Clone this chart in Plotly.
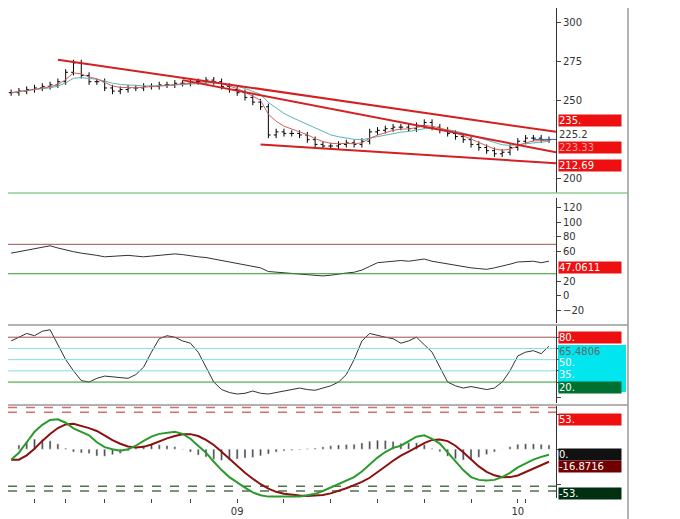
import plotly.graph_objects as go
import pandas as pd

W, H = 680, 519
closes = [255,256,257,258,259,260,262,268,274,266,
          262,262,258,256,257,258,258,259,259,260,
          260,261,261,262,262,263,262,259,257,255,
          252,249,246,228,230,229,229,228,225,222,
          221,221,222,223,222,224,230,231,232,233,
          233,232,234,236,233,231,229,227,225,222,
          220,218,216,217,220,224,226,226,225,225]
rsi = [58,60,62,64,66,68,65,62,60,58, 57,55,53,54,55,55,54,53,54,55,
       56,57,56,54,53,52,50,48,47,45, 42,40,38,33,32,31,30,29,28,27,
       27,28,30,31,32,35,40,45,46,47, 48,47,49,50,47,45,44,42,40,38,
       37,36,38,40,43,46,47,47,45,47]
stoch = [75,80,85,82,88,90,70,50,35,22, 20,25,28,27,26,25,30,40,60,78,
         82,80,75,72,60,40,20,10,6,4, 5,8,5,4,6,8,10,12,10,9,
         12,15,20,30,50,75,85,82,80,78, 72,75,80,70,60,40,20,15,12,14,
         12,10,12,20,35,55,60,62,58,68]
macd = [-15,-5,10,25,35,42,43,38,30,25, 20,10,3,0,-2,0,5,12,18,22,
        24,25,22,15,5,-5,-18,-30,-40,-48, -55,-62,-66,-68,-68,-68,-68,-68,-66,-64,
        -60,-55,-50,-45,-40,-32,-22,-12,-4,2, 5,12,18,20,15,8,-5,-18,-30,-40,
        -44,-45,-44,-40,-34,-26,-20,-15,-11,-8]
trend_upper = ([6, 69.9], [276, 230])
trend_mid = ([22, 69.9], [263, 217])
trend_low = ([32, 69.9], [222, 210])
xtick_vals = [3, 7, 12, 18, 23, 29, 35, 41, 47, 53, 59, 65, 66]
xtick_text = ["", "", "", "", "", "09", "", "", "", "", "", "10", ""]

n = len(closes)
x = list(range(n))
opens = [closes[0]] + closes[:-1]
highs = [max(o, c) + 2 for o, c in zip(opens, closes)]
lows = [min(o, c) - 2 for o, c in zip(opens, closes)]
s = pd.Series(closes, dtype=float)
ma1 = s.ewm(span=4).mean()
ma2 = s.ewm(span=9).mean()
m = pd.Series(macd, dtype=float)
sig = m.ewm(span=4).mean().shift(1).fillna(m.iloc[0])
hist = (m - sig) * 0.6

def py(p): return 1 - p / H

fig = go.Figure()
fig.add_trace(go.Ohlc(x=x, open=opens, high=highs, low=lows, close=closes,
                      increasing_line_color="black", decreasing_line_color="black",
                      line_width=1, tickwidth=0.3, xaxis="x", yaxis="y"))
fig.add_trace(go.Scatter(x=x, y=ma2, mode="lines", line=dict(color="#5fb3b3", width=1), xaxis="x", yaxis="y"))
fig.add_trace(go.Scatter(x=x, y=ma1, mode="lines", line=dict(color="#d06060", width=1), xaxis="x", yaxis="y"))
for tl in (trend_upper, trend_mid, trend_low):
    fig.add_trace(go.Scatter(x=tl[0], y=tl[1], mode="lines", line=dict(color="#d42020", width=2), xaxis="x", yaxis="y"))
fig.add_trace(go.Scatter(x=[67, 69.9], y=[225.2, 225.2], mode="lines", line=dict(color="#4060a0", width=1), xaxis="x", yaxis="y"))

fig.add_trace(go.Scatter(x=x, y=rsi, mode="lines", line=dict(color="#333", width=1), xaxis="x2", yaxis="y2"))
for lv, c in ((70, "#a05050"), (30, "#2a9a2a")):
    fig.add_trace(go.Scatter(x=[-0.4, 69.9], y=[lv, lv], mode="lines", line=dict(color=c, width=1), xaxis="x2", yaxis="y2"))

fig.add_trace(go.Scatter(x=x, y=stoch, mode="lines", line=dict(color="#333", width=1), xaxis="x3", yaxis="y3"))
for lv, c in ((80, "#a05050"), (65, "#7fe0e0"), (50, "#7fe0e0"), (35, "#7fe0e0"), (20, "#2a9a2a")):
    fig.add_trace(go.Scatter(x=[-0.4, 69.9], y=[lv, lv], mode="lines", line=dict(color=c, width=1), xaxis="x3", yaxis="y3"))

fig.add_trace(go.Bar(x=x, y=hist, marker_color="#444", width=0.25, xaxis="x4", yaxis="y4"))
for lv, c in ((60, "#d07070"), (53, "#d07070"), (-53, "#507050"), (-60, "#507050")):
    fig.add_trace(go.Scatter(x=[-0.4, 69.9], y=[lv, lv], mode="lines", line=dict(color=c, width=1.5, dash="dash"), xaxis="x4", yaxis="y4"))
fig.add_trace(go.Scatter(x=x, y=sig, mode="lines", line=dict(color="#8b1010", width=2), xaxis="x4", yaxis="y4"))
fig.add_trace(go.Scatter(x=x, y=m, mode="lines", line=dict(color="#2a9a2a", width=2), xaxis="x4", yaxis="y4"))

xd = [0, 548 / W]
common_x = dict(range=[-0.4, 69.9], domain=xd, showgrid=False, zeroline=False, rangeslider=dict(visible=False))
yax = dict(side="right", showgrid=False, zeroline=False, ticks="outside", ticklen=4, showline=True,
           linecolor="#333", tickfont=dict(family="DejaVu Sans", size=10, color="#333"), ticksuffix=".")
fig.update_layout(
    width=W, height=H, margin=dict(l=0, r=0, t=0, b=0), showlegend=False,
    plot_bgcolor="white", paper_bgcolor="white",
    xaxis=dict(**common_x, showticklabels=False),
    xaxis2=dict(**common_x, showticklabels=False, matches="x", anchor="y2"),
    xaxis3=dict(**common_x, showticklabels=False, matches="x", anchor="y3"),
    xaxis4=dict(**common_x, matches="x", anchor="y4", tickvals=xtick_vals, ticktext=xtick_text,
                ticks="outside", ticklen=4, tickfont=dict(family="DejaVu Sans", size=10, color="#333")),
    yaxis=dict(**yax, domain=[py(185), 1], range=[191, 309], tickvals=[200, 250, 275, 300]),
    yaxis2=dict(**yax, domain=[py(315), py(190)], range=[-37, 133], tickvals=[-20, 0, 20, 60, 80, 100, 120], anchor="x2"),
    yaxis3=dict(**yax, domain=[py(395), py(318)], range=[-8, 95], tickvals=[0, 20, 35, 50, 65, 80], showticklabels=False, anchor="x3"),
    yaxis4=dict(**yax, domain=[py(490), py(398)], range=[-70, 62], tickvals=[-50, 0, 50], showticklabels=False, anchor="x4"),
)

shapes = []
for p, c in ((185, "#8fcf8f"), (317, "#999"), (397, "#999")):
    shapes.append(dict(type="line", xref="paper", yref="paper", x0=0, x1=620 / W, y0=py(p), y1=py(p), line=dict(color=c, width=1.5)))
shapes.append(dict(type="line", xref="paper", yref="paper", x0=620 / W, x1=620 / W, y0=0, y1=1, line=dict(color="#999", width=1.5)))
shapes.append(dict(type="rect", xref="paper", yref="paper", x0=550 / W, x1=618 / W, y0=py(384), y1=py(337), fillcolor="#00e5ee", line_width=0, layer="below"))
fig.update_layout(shapes=shapes)

labels = [("235.", 113, "#ee1010", "white"), ("225.2", 126, "white", "#333"), ("223.33", 139, "#ee1010", "#ffa0a0"),
          ("212.69", 157, "#ee1010", "white"), ("47.0611", 259, "#ee1010", "white"),
          ("80.", 329, "#ee1010", "white"), ("65.4806", 343, "#00e5ee", "#666"), ("50.", 354, "#00e5ee", "white"),
          ("35.", 366, "#00e5ee", "white"), ("20.", 379, "#007030", "white"),
          ("53.", 411, "#ee1010", "white"), ("0.", 446, "#111", "white"), ("-16.8716", 458, "#700000", "white"),
          ("-53.", 485, "#003010", "white")]
for t, p, bg, fc in labels:
    fig.add_annotation(x=550 / W, y=py(p), xref="paper", yref="paper", xanchor="left", yanchor="middle",
                       text=t, showarrow=False, bgcolor=bg, width=62, height=11, align="left",
                       font=dict(family="DejaVu Sans", size=10, color=fc), borderpad=0)
fig.write_html("out.html")
